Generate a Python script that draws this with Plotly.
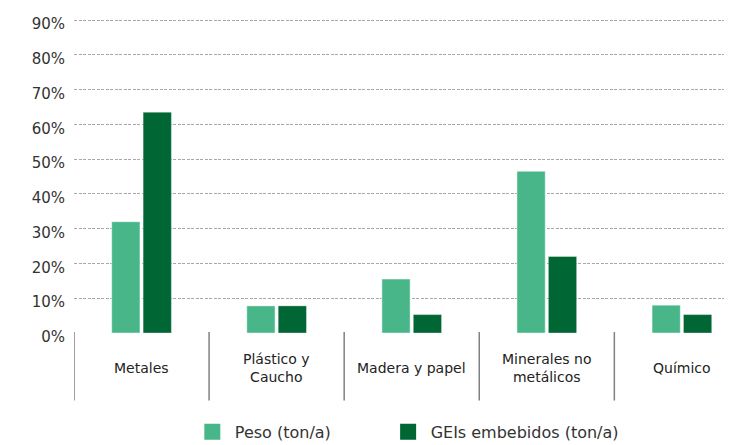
import plotly.graph_objects as go

categories = ["Metales", "Plástico y<br>Caucho", "Madera y papel", "Minerales no<br>metálicos", "Químico"]
peso = [32.0, 7.8, 15.5, 46.5, 8.0]
geis = [63.5, 7.8, 5.3, 22.0, 5.3]
series_names = ["Peso (ton/a)", "GEIs embebidos (ton/a)"]
ytick_vals = [0, 10, 20, 30, 40, 50, 60, 70, 80, 90]
ytick_text = ["0%", "10%", "20%", "30%", "40%", "50%", "60%", "70%", "80%", "90%"]

LIGHT = "#49b68a"
DARK = "#006633"
TXT = "#333333"
FONT = "DejaVu Sans"

x_idx = list(range(len(categories)))

fig = go.Figure()
fig.add_trace(go.Bar(x=x_idx, y=peso, name=series_names[0], marker=dict(color=LIGHT, line=dict(color="rgba(255,255,255,0.45)", width=1)), showlegend=False))
fig.add_trace(go.Bar(x=x_idx, y=geis, name=series_names[1], marker=dict(color=DARK, line=dict(color="rgba(255,255,255,0.35)", width=1)), showlegend=False))
# legend entries (one legend per series)
for nm, col, lg in zip(series_names, [LIGHT, DARK], ["legend", "legend2"]):
    fig.add_trace(go.Scatter(x=[None], y=[None], mode="markers", name=nm, legend=lg,
                             marker=dict(symbol="square", size=16, color=col)))

for i, c in enumerate(categories):
    fig.add_annotation(x=i, y=0, xref="x", yref="paper", text=c, showarrow=False,
                       yanchor="middle", yshift=-35, align="center",
                       font=dict(family=FONT, size=14, color="#222222"))
    fig.add_shape(type="line", xref="x", yref="paper", x0=i - 0.5, x1=i - 0.5,
                  y0=0.003, y1=-0.215, line=dict(color="#808080", width=1.5))

leg_common = dict(orientation="h", xanchor="left", yref="container", y=0.03,
                  yanchor="middle", font=dict(family=FONT, size=16, color=TXT),
                  itemsizing="trace", itemwidth=35, bgcolor="rgba(0,0,0,0)")

fig.update_layout(
    width=724, height=437,
    margin=dict(l=66, r=0, t=11, b=112),
    plot_bgcolor="white", paper_bgcolor="white",
    barmode="group", bargap=0.535, bargroupgap=0.1,
    showlegend=True,
    legend=dict(x=0.176, **leg_common),
    legend2=dict(x=0.4736, **leg_common),
    xaxis=dict(range=[-0.5, 4.371], showticklabels=False, showgrid=False, zeroline=False,
               showline=False, ticks=""),
    yaxis=dict(range=[0, 90.3], tickvals=ytick_vals, ticktext=ytick_text, showgrid=True,
               gridcolor="#a8a8a8", griddash="3px,1.5px", gridwidth=1, zeroline=False, showline=False,
               ticks="", ticklabelstandoff=8, ticklabelshift=4,
               tickfont=dict(family=FONT, size=15, color=TXT)),
)

fig.write_html("out.html")
